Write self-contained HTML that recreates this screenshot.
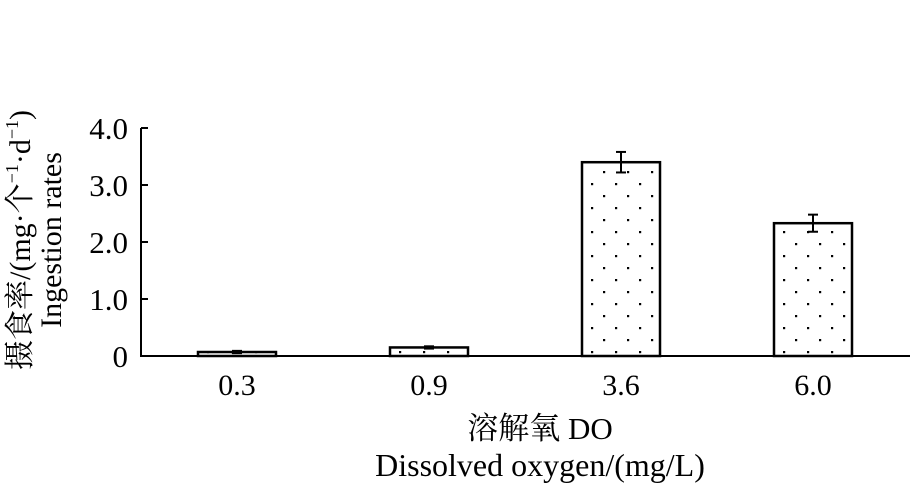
<!DOCTYPE html>
<html><head><meta charset="utf-8"><style>
body{margin:0;background:#fff}
svg text{font-family:"Liberation Serif","Noto Serif CJK SC",serif;fill:#000}
</style></head><body>
<svg id="c" width="915" height="483">
<defs><pattern id="dots" width="24" height="24" patternUnits="userSpaceOnUse">
<rect x="3" y="3" width="2.2" height="2.2" fill="#000"/><rect x="15" y="15" width="2.2" height="2.2" fill="#000"/></pattern></defs>
<g id="bars"></g>
<line x1="141" y1="128" x2="141" y2="356" stroke="#000" stroke-width="2"/>
<line x1="140" y1="356" x2="910" y2="356" stroke="#000" stroke-width="2"/>
<g id="yticks"></g><g id="xticks"></g>
<g transform="translate(30,240) rotate(-90)"><text x="0" y="0" text-anchor="middle" font-size="30">摄食率/(mg·个<tspan font-size="18" dy="-12">−1</tspan><tspan dy="12">·d</tspan><tspan font-size="18" dy="-12">−1</tspan><tspan dy="12">)</tspan></text></g>
<text transform="translate(61,240) rotate(-90)" text-anchor="middle" font-size="30">Ingestion rates</text>
<text x="540" y="439" text-anchor="middle" font-size="31">溶解氧 DO</text>
<text x="540" y="476" text-anchor="middle" font-size="32">Dissolved oxygen/(mg/L)</text>
</svg>
<script>
const categories=["0.3","0.9","3.6","6.0"];
const values=[0.07,0.15,3.40,2.33];
const errors=[0.02,0.02,0.18,0.15];
const yTicks=[0,1,2,3,4];
const yTickLabels=["0","1.0","2.0","3.0","4.0"];
const NS="http://www.w3.org/2000/svg";
const x0=141,bandW=192,y0=356,pxPerUnit=57,barW=78;
const xScale=i=>x0+bandW*(i+0.5);
const yScale=v=>y0-v*pxPerUnit;
function mk(t,a,p){const e=document.createElementNS(NS,t);for(const k in a)e.setAttribute(k,a[k]);p.appendChild(e);return e;}
const gb=document.getElementById('bars'),gx=document.getElementById('xticks'),gy=document.getElementById('yticks');
values.forEach((v,i)=>{
const cx=xScale(i),top=yScale(v);
const r=mk('rect',{x:cx-barW/2,y:top,width:barW,height:y0-top,fill:'url(#dots)',stroke:'#000','stroke-width':2.5},gb);


const eg=mk('g',{stroke:'#000','stroke-width':2},gb);


const a=yScale(v+errors[i]),b=yScale(v-errors[i]);
mk('line',{x1:cx,x2:cx,y1:a,y2:b},eg);
mk('line',{x1:cx-5,x2:cx+5,y1:a,y2:a},eg);
mk('line',{x1:cx-5,x2:cx+5,y1:b,y2:b},eg);
const t=mk('text',{x:cx,y:395,'text-anchor':'middle','font-size':30},gx);t.textContent=categories[i];


});
yTicks.forEach((v,i)=>{
const y=yScale(v);
mk('line',{x1:141,x2:148,y1:y,y2:y,stroke:'#000','stroke-width':2},gy);
const t=mk('text',{x:128,y:y+11,'text-anchor':'end','font-size':31},gy);t.textContent=yTickLabels[i];


});
</script>
</body></html>
